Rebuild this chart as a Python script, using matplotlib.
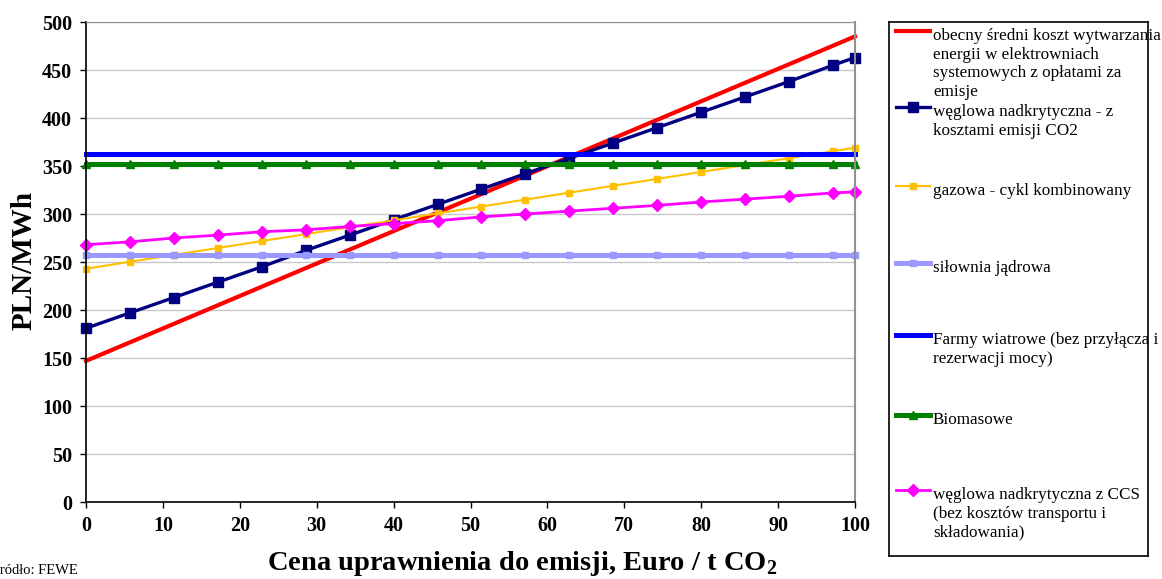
import matplotlib
matplotlib.use("Agg")
import matplotlib.pyplot as plt
from matplotlib.lines import Line2D

plt.rcParams['font.family'] = ['Liberation Serif', 'DejaVu Serif']
plt.rcParams['mathtext.fontset'] = 'custom'
plt.rcParams['mathtext.rm'] = 'Liberation Serif'
plt.rcParams['mathtext.bf'] = 'Liberation Serif:bold'

# CO2 allowance price, Euro / t (20 PLN steps at 3.5 PLN/EUR, last point 100)
price_eur = [0, 5.71, 11.43, 17.14, 22.86, 28.57, 34.29, 40.0, 45.71, 51.43,
             57.14, 62.86, 68.57, 74.29, 80.0, 85.71, 91.43, 97.14, 100.0]

# generation cost, PLN/MWh
system_avg = [147, 166.3, 185.6, 204.9, 224.3, 243.6, 262.9, 282.2, 301.5, 320.8,
              340.1, 359.5, 378.8, 398.1, 417.4, 436.7, 456.0, 475.3, 485]
coal_sc = [181, 197, 213, 229, 245, 262, 278, 294, 310, 326,
           342, 358, 374, 390, 406, 422, 438, 455, 463]
gas_cc = [243, 250.2, 257.4, 264.6, 271.8, 279, 286.2, 293.4, 300.6, 307.8,
          315, 322.2, 329.4, 336.6, 343.8, 351, 358.2, 365.4, 369]
nuclear = [257] * len(price_eur)
wind = [362] * len(price_eur)
biomass = [352] * len(price_eur)
coal_ccs = [268, 271, 275, 278, 281.5, 283.5, 287, 290, 293, 297,
            300, 303, 306, 309, 312.5, 315.5, 318.5, 322, 323]

labels = [
    "obecny średni koszt wytwarzania\nenergii w elektrowniach\nsystemowych z opłatami za\nemisje",
    "węglowa nadkrytyczna - z\nkosztami emisji CO2",
    "gazowa - cykl kombinowany",
    "siłownia jądrowa",
    "Farmy wiatrowe (bez przyłącza i\nrezerwacji mocy)",
    "Biomasowe",
    "węglowa nadkrytyczna z CCS\n(bez kosztów transportu i\nskładowania)",
]

styles = [
    dict(color='#ff0000', lw=3.0, marker=None),
    dict(color='#000080', lw=2.4, marker='s', ms=7),
    dict(color='#ffc000', lw=1.5, marker='s', ms=4.5),
    dict(color='#9999ff', lw=3.6, marker='s', ms=4),
    dict(color='#0000ff', lw=3.6, marker=None),
    dict(color='#008000', lw=3.6, marker='^', ms=6),
    dict(color='#ff00ff', lw=2.0, marker='D', ms=6.5),
]
series = [system_avg, coal_sc, gas_cc, nuclear, wind, biomass, coal_ccs]

fig = plt.figure(figsize=(11.62, 5.79), dpi=100)
W, H = 1162, 579
ax = fig.add_axes([86 / W, 1 - 502 / H, (855 - 86) / W, (502 - 22) / H])

for vals, st in zip(series, styles):
    ax.plot(price_eur, vals, color=st['color'], lw=st['lw'], marker=st['marker'],
            ms=st.get('ms', 0), mec=st['color'], mfc=st['color'], clip_on=False,
            solid_joinstyle='miter')

ax.set_xlim(0, 100)
ax.set_ylim(0, 500)
ax.set_xticks(range(0, 101, 10))
ax.set_yticks(range(0, 501, 50))
ax.yaxis.grid(True, color='#c8c8c8', lw=1)
ax.set_axisbelow(True)
ax.tick_params(direction='out', length=4, width=1, labelsize=14.5, pad=6)
for lab in ax.get_xticklabels() + ax.get_yticklabels():
    lab.set_fontweight('bold')
ax.spines['top'].set_color('#909090')
ax.spines['right'].set_color('#909090')
ax.spines['right'].set_linewidth(1.5)
ax.spines['left'].set_linewidth(1.2)
ax.spines['bottom'].set_linewidth(1.2)

fig.text(24 / W, 1 - 260 / H, 'PLN/MWh', rotation=90, ha='center', va='center',
         fontsize=21, fontweight='bold')
fig.text(522 / W, 1 - 564 / H, r'Cena uprawnienia do emisji, Euro / t CO$_\mathbf{2}$',
         ha='center', va='center', fontsize=20.5, fontweight='bold')
fig.text(-9 / W, 1 - 570 / H, 'Źródło: FEWE', ha='left', va='center', fontsize=10.5)

# legend drawn by hand so the swatch sits on the first text line
lg = fig.add_axes([889 / W, 1 - 556 / H, (1148 - 889) / W, (556 - 22) / H])
lg.set_xlim(889, 1148)
lg.set_ylim(556, 22)
lg.set_xticks([])
lg.set_yticks([])
for sp in lg.spines.values():
    sp.set_linewidth(1.2)
    sp.set_color('black')
entry_y = [31, 107, 186, 263, 335, 415, 490]
for yy, lab, st in zip(entry_y, labels, styles):
    lg.add_line(Line2D([896, 930], [yy, yy], color=st['color'], lw=st['lw']))
    if st['marker']:
        lg.plot([913], [yy], marker=st['marker'], ms=st['ms'], color=st['color'])
    lg.text(933, yy - 3, lab, ha='left', va='top', fontsize=12.3,
            linespacing=1.22, clip_on=False)

fig.savefig('out.png', dpi=100)
